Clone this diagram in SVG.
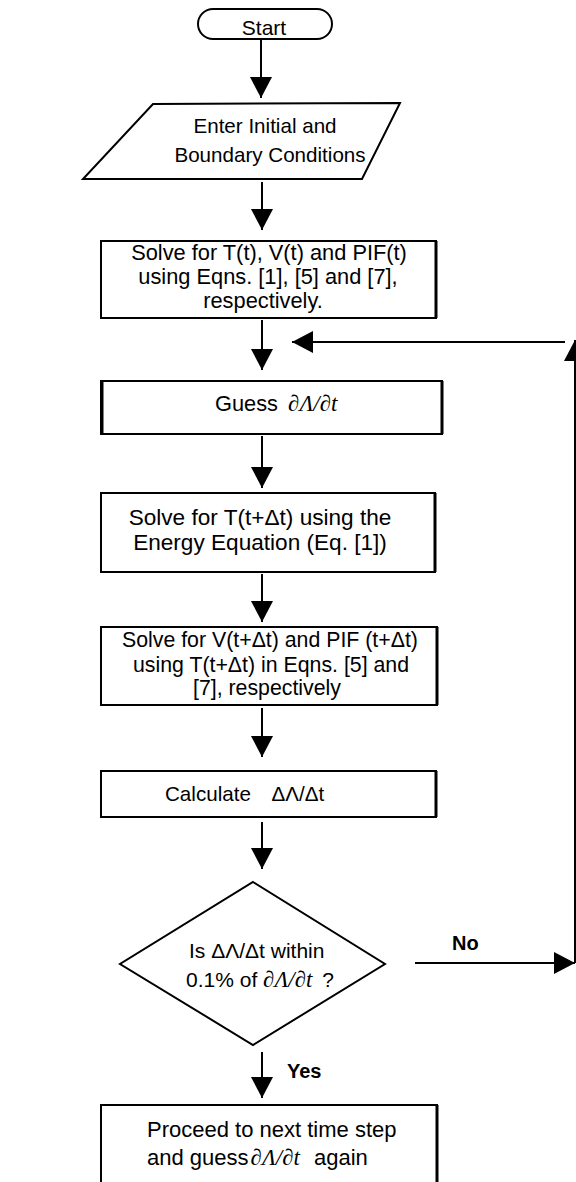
<svg xmlns="http://www.w3.org/2000/svg" width="576" height="1182" viewBox="0 0 576 1182">
  <defs>
    <marker id="arrow" viewBox="0 0 21 22" refX="21" refY="11" markerWidth="21" markerHeight="22" markerUnits="userSpaceOnUse" orient="auto">
      <path d="M0,0 L21,11 L0,22 Z" fill="#000"/>
    </marker>
    <style>
      .box { fill: #fff; stroke: #000; stroke-width: 2; }
      .edge { stroke: #000; stroke-width: 3; }
      .lbl { font-family: "Liberation Sans", Arial, sans-serif; font-size: 21px; fill: #000; }
      .mid { text-anchor: middle; }
      .bold { font-weight: bold; font-size: 20px; }
      .math { font-family: "Liberation Serif", "Times New Roman", serif; font-style: italic; font-size: 23px; }
      .conn { stroke: #000; stroke-width: 2; fill: none; marker-end: url(#arrow); }
    </style>
  </defs>
  <rect width="576" height="1182" fill="#fff"/>

  <!-- connectors -->
  <g id="connectors">
    <line class="conn" x1="261" y1="40" x2="261" y2="98"/>
    <line class="conn" x1="262" y1="182" x2="262" y2="230"/>
    <line class="conn" x1="262" y1="320" x2="262" y2="370"/>
    <line class="conn" x1="262" y1="436" x2="262" y2="488"/>
    <line class="conn" x1="262" y1="574" x2="262" y2="622"/>
    <line class="conn" x1="262" y1="708" x2="262" y2="757"/>
    <line class="conn" x1="262" y1="822" x2="262" y2="869"/>
    <line class="conn" x1="262" y1="1052" x2="262" y2="1098"/>
    <!-- No branch and loop back -->
    <line class="conn" x1="415" y1="963" x2="575" y2="963"/>
    <line class="conn" x1="575" y1="963" x2="575" y2="340"/>
    <line class="conn" x1="565" y1="342" x2="292" y2="342"/>
    <text class="lbl bold" x="452" y="950">No</text>
    <text class="lbl bold" x="287" y="1078">Yes</text>
  </g>

  <g id="start">
    <rect class="box" x="198" y="9" width="134" height="30" rx="15" ry="15"/>
    <text class="lbl mid" x="264" y="35">Start</text>
  </g>

  <g id="input">
    <polygon class="box" points="153,104 400,103 362,179 83,179"/>
    <g class="lbl mid" style="font-size:20.6px">
      <text x="265" y="133">Enter Initial and</text>
      <text x="270" y="162">Boundary Conditions</text>
    </g>
  </g>

  <g id="solve-t">
    <rect class="box" x="101" y="241" width="335" height="77"/>
    <line class="edge" x1="436" y1="241" x2="436" y2="318"/>
    <g class="lbl mid" style="font-size:21.8px">
      <text x="269" y="260">Solve for T(t), V(t) and PIF(t)</text>
      <text x="268" y="284">using Eqns. [1], [5] and [7],</text>
      <text x="263" y="308">respectively.</text>
    </g>
  </g>

  <g id="guess">
    <rect class="box" x="101" y="381" width="341" height="53"/>
    <line class="edge" x1="442" y1="381" x2="442" y2="434"/>
    <line class="edge" x1="102" y1="381" x2="102" y2="434"/>
    <text class="lbl" x="215" y="411" style="font-size:21.8px">Guess <tspan class="math" dx="4">∂Λ/∂t</tspan></text>
  </g>

  <g id="energy">
    <rect class="box" x="101" y="493" width="334" height="79"/>
    <line class="edge" x1="435" y1="493" x2="435" y2="572"/>
    <g class="lbl mid" style="font-size:22.6px">
      <text x="260" y="525">Solve for T(t+Δt) using the</text>
      <text x="260" y="550">Energy Equation (Eq. [1])</text>
    </g>
  </g>

  <g id="solve-v">
    <rect class="box" x="101" y="627" width="336" height="78"/>
    <line class="edge" x1="437" y1="627" x2="437" y2="705"/>
    <g class="lbl mid" style="font-size:21.3px">
      <text x="270" y="647">Solve for V(t+Δt) and PIF (t+Δt)</text>
      <text x="271" y="672">using T(t+Δt) in Eqns. [5] and</text>
      <text x="267" y="695">[7], respectively</text>
    </g>
  </g>

  <g id="calculate">
    <rect class="box" x="101" y="771" width="335" height="46"/>
    <line class="edge" x1="436" y1="771" x2="436" y2="817"/>
    <text class="lbl" x="165" y="801" style="font-size:20.6px">Calculate <tspan dx="15">ΔΛ/Δt</tspan></text>
  </g>

  <g id="check">
    <polygon class="box" points="253,882 385,964 253,1045 120,964"/>
    <text class="lbl" x="189" y="958">Is ΔΛ/Δt within</text>
    <text class="lbl" x="186" y="987">0.1% of <tspan class="math">∂Λ/∂t</tspan> <tspan dx="4">?</tspan></text>
  </g>

  <g id="next-step">
    <rect class="box" x="101" y="1105" width="336" height="100"/>
    <line class="edge" x1="437" y1="1105" x2="437" y2="1182"/>
    <text class="lbl" x="147" y="1137" style="font-size:22px">Proceed to next time step</text>
    <text class="lbl" x="147" y="1165" style="font-size:22px">and guess<tspan class="math" dx="2">∂Λ/∂t</tspan><tspan dx="14">again</tspan></text>
  </g>
</svg>
